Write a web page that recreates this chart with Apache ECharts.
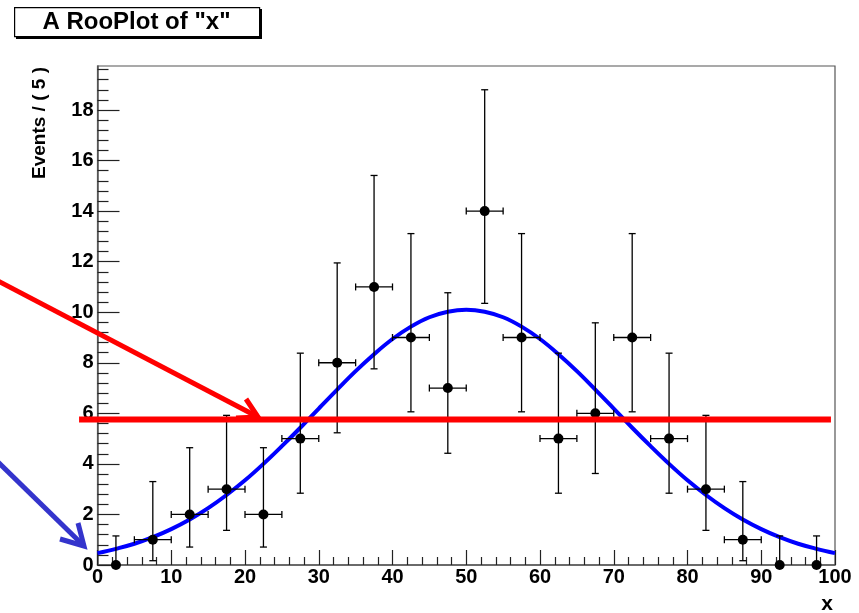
<!DOCTYPE html>
<html>
<head>
<meta charset="utf-8">
<script src="https://cdn.jsdelivr.net/npm/echarts@6/dist/echarts.min.js"></script>
<style>
html,body{margin:0;padding:0;background:#fff;}
#chart{width:859px;height:613px;}
</style>
</head>
<body>
<div id="chart"></div>
<script>
// ---- data ----
const titleText = 'A RooPlot of "x"';
const yAxisTitle = 'Events / ( 5 )';
const xAxisTitle = 'x';
const binCenters = [2.5,7.5,12.5,17.5,22.5,27.5,32.5,37.5,42.5,47.5,52.5,57.5,62.5,67.5,72.5,77.5,82.5,87.5,92.5,97.5];
const counts     = [0,1,2,3,2,5,8,11,9,7,14,9,5,6,9,5,3,1,0,0];
const errLower   = [0,0.17,0.71,1.37,0.71,2.84,5.23,7.76,6.06,4.42,10.35,6.06,2.84,3.62,6.06,2.84,1.37,0.17,0,0];
const errUpper   = [1.15,3.30,4.64,5.92,4.64,8.38,11.95,15.41,13.11,10.77,18.80,13.11,8.38,9.58,13.11,8.38,5.92,3.30,1.15,1.15];
const curveX = [0,2.5,5,7.5,10,12.5,15,17.5,20,22.5,25,27.5,30,32.5,35,37.5,40,42.5,45,47.5,50,52.5,55,57.5,60,62.5,65,67.5,70,72.5,75,77.5,80,82.5,85,87.5,90,92.5,95,97.5,100];
const curveY = [0.47,0.64,0.84,1.10,1.42,1.80,2.25,2.77,3.35,4.00,4.70,5.43,6.19,6.94,7.67,8.34,8.94,9.43,9.80,10.02,10.10,10.02,9.80,9.43,8.94,8.34,7.67,6.94,6.19,5.43,4.70,4.00,3.35,2.77,2.25,1.80,1.42,1.10,0.84,0.64,0.47];
const yTickValues = [0,2,4,6,8,10,12,14,16,18];
const redLevel = 5.76;
const xMin = 0, xMax = 100, xStep = 10;
const yMin = 0, yMax = 19.74, yStep = 2;

const pointData = binCenters.map((x, i) => [x, counts[i], errLower[i], errUpper[i]]);
const curveData = curveX.map((x, i) => [x, curveY[i]]);

const FONT = 'Liberation Sans, Arial, Helvetica, sans-serif';
const chart = echarts.init(document.getElementById('chart'), null, {renderer: 'canvas'});

function renderPoint(params, api) {
  const x = api.value(0), y = api.value(1), lo = api.value(2), hi = api.value(3);
  const c = api.coord([x, y]);
  const l = api.coord([x - 2.5, y]);
  const r = api.coord([x + 2.5, y]);
  const t = api.coord([x, hi]);
  const b = api.coord([x, lo]);
  const st = {stroke: '#000', lineWidth: 1.3, fill: null};
  const cap = 3.5;
  const children = [
    {type: 'line', shape: {x1: c[0], y1: t[1], x2: c[0], y2: b[1]}, style: st},
    {type: 'line', shape: {x1: c[0] - cap, y1: t[1], x2: c[0] + cap, y2: t[1]}, style: st},
    {type: 'line', shape: {x1: c[0] - cap, y1: b[1], x2: c[0] + cap, y2: b[1]}, style: st}
  ];
  if (y > 0) {
    children.push(
      {type: 'line', shape: {x1: l[0], y1: c[1], x2: r[0], y2: c[1]}, style: st},
      {type: 'line', shape: {x1: l[0], y1: c[1] - cap, x2: l[0], y2: c[1] + cap}, style: st},
      {type: 'line', shape: {x1: r[0], y1: c[1] - cap, x2: r[0], y2: c[1] + cap}, style: st}
    );
  }
  children.push({type: 'circle', shape: {cx: c[0], cy: c[1], r: 5}, style: {fill: '#000'}});
  return {type: 'group', children: children};
}

const axisCol = '#555';
const option = {
  animation: false,
  backgroundColor: '#fff',
  grid: {left: 97.5, right: 24, top: 66, bottom: 48, show: true, borderColor: axisCol, borderWidth: 1.2, backgroundColor: 'transparent'},
  xAxis: {
    type: 'value', min: xMin, max: xMax, interval: xStep,
    axisLine: {show: true, lineStyle: {color: axisCol, width: 1.5}},
    axisTick: {show: true, inside: true, length: 15, lineStyle: {color: '#222', width: 1.2}},
    minorTick: {show: true, splitNumber: 5, length: 8, lineStyle: {color: '#222', width: 1.2}},
    splitLine: {show: false},
    axisLabel: {color: '#000', fontFamily: FONT, fontWeight: 'bold', fontSize: 20, margin: 2}
  },
  yAxis: {
    type: 'value', min: yMin, max: yMax, interval: yStep,
    axisLine: {show: true, lineStyle: {color: axisCol, width: 1.5}},
    axisTick: {show: true, inside: true, length: 22, customValues: yTickValues, lineStyle: {color: '#222', width: 1.2}},
    minorTick: {show: true, splitNumber: 5, length: 11, lineStyle: {color: '#222', width: 1.2}},
    splitLine: {show: false},
    axisLabel: {color: '#000', fontFamily: FONT, fontWeight: 'bold', fontSize: 20, margin: 4, customValues: yTickValues}
  },
  series: [
    {
      type: 'line', data: curveData, smooth: 0.4, showSymbol: false, symbol: 'none',
      lineStyle: {color: '#0000ff', width: 4}, z: 2, silent: true
    },
    {
      type: 'custom', data: pointData, renderItem: renderPoint, z: 3, silent: true,
      encode: {x: 0, y: 1}
    }
  ],
  graphic: []
};
chart.setOption(option);

// annotations (overlay drawn in pixel space, red line positioned from data level)
const pL = chart.convertToPixel({gridIndex: 0}, [-2.5, redLevel]);
const pR = chart.convertToPixel({gridIndex: 0}, [99.45, redLevel]);
const red = '#ff0000', blue = '#3434cc';
chart.setOption({
  graphic: [
    {type: 'rect', left: 16, top: 9, shape: {width: 246, height: 30}, style: {fill: '#000'}, z: 10},
    {type: 'rect', left: 14, top: 7, shape: {width: 245, height: 29}, style: {fill: '#fff', stroke: '#000', lineWidth: 1.2}, z: 11},
    {type: 'text', x: 136.5, y: 22.5, style: {text: titleText, fill: '#000', font: 'bold 24px ' + FONT, align: 'center', verticalAlign: 'middle'}, z: 12},
    {type: 'text', x: 40, y: 123, rotation: Math.PI / 2, style: {text: yAxisTitle, fill: '#000', font: 'bold 19px ' + FONT, align: 'center', verticalAlign: 'middle'}, z: 12},
    {type: 'text', x: 827, y: 604, style: {text: xAxisTitle, fill: '#000', font: 'bold 21px ' + FONT, align: 'center', verticalAlign: 'middle'}, z: 12},
    {type: 'line', shape: {x1: pL[0], y1: pL[1], x2: pR[0], y2: pR[1]}, style: {stroke: red, lineWidth: 6}, z: 20},
    {type: 'polyline', shape: {points: [[-2, 281], [258, 417]]}, style: {stroke: red, lineWidth: 5, fill: null}, z: 20},
    {type: 'polyline', shape: {points: [[246, 399], [258, 417], [236, 418]]}, style: {stroke: red, lineWidth: 5, fill: null, lineJoin: 'miter'}, z: 20},
    {type: 'polyline', shape: {points: [[-2, 462], [84, 546]]}, style: {stroke: blue, lineWidth: 5, fill: null}, z: 20},
    {type: 'polyline', shape: {points: [[78, 523], [84, 546], [60, 539]]}, style: {stroke: blue, lineWidth: 5, fill: null, lineJoin: 'miter'}, z: 20}
  ]
});
</script>
</body>
</html>
